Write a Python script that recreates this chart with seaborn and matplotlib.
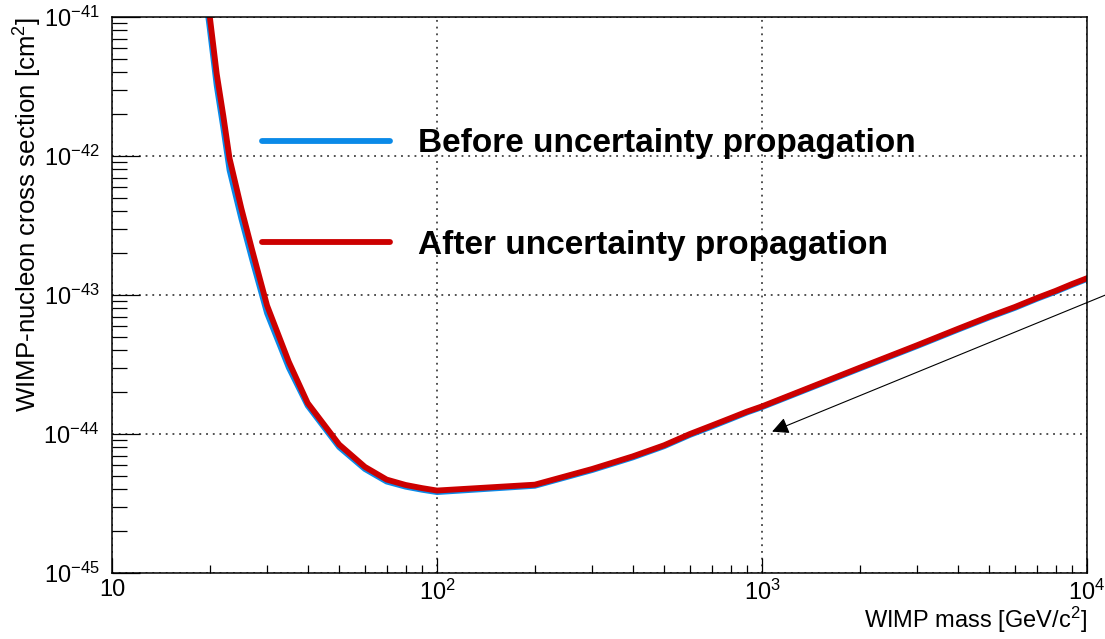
import numpy as np
import pandas as pd
import matplotlib
matplotlib.use("Agg")
import matplotlib.pyplot as plt
from matplotlib.lines import Line2D
from matplotlib.ticker import FixedLocator, FuncFormatter, NullFormatter
import seaborn as sns

# ---- data ----
mass = [19, 20, 21, 22, 23, 25, 27, 30, 35, 40, 50, 60, 70, 80, 90, 100,
        200, 300, 400, 500, 600, 700, 800, 900, 1000,
        2000, 3000, 4000, 5000, 6000, 7000, 8000, 9000, 10000]
xsec_before = [2.1e-41, 8.2e-42, 3.2e-42, 1.6e-42, 7.9e-43, 3.55e-43, 1.8e-43, 7.4e-44,
               3.0e-44, 1.6e-44, 8.05e-45, 5.6e-45, 4.55e-45, 4.18e-45, 3.97e-45, 3.82e-45,
               4.24e-45, 5.5e-45, 6.78e-45, 8.17e-45, 9.85e-45, 1.13e-44, 1.28e-44, 1.43e-44, 1.56e-44,
               2.96e-44, 4.29e-44, 5.62e-44, 6.9e-44, 8.08e-44, 9.37e-44, 1.055e-43, 1.183e-43, 1.303e-43]
xsec_after = [2.6e-41, 1.0e-41, 3.9e-42, 1.95e-42, 9.6e-43, 4.2e-43, 2.1e-43, 8.4e-44,
              3.3e-44, 1.67e-44, 8.4e-45, 5.8e-45, 4.7e-45, 4.3e-45, 4.08e-45, 3.92e-45,
              4.32e-45, 5.6e-45, 6.9e-45, 8.3e-45, 1.0e-44, 1.15e-44, 1.3e-44, 1.45e-44, 1.58e-44,
              3.0e-44, 4.35e-44, 5.7e-44, 7.0e-44, 8.2e-44, 9.5e-44, 1.07e-43, 1.2e-43, 1.32e-43]
series_names = ["Before uncertainty propagation", "After uncertainty propagation"]
series_colors = ["#0a8ae8", "#cc0000"]
x_exponents = [1, 2, 3, 4]
y_exponents = [-45, -44, -43, -42, -41]
arrow_tip = (1074, 1.04e-44)
arrow_tail = (11400, 1.0e-43)

df = pd.DataFrame({
    "mass": mass + mass,
    "xsec": xsec_before + xsec_after,
    "series": [series_names[0]] * len(mass) + [series_names[1]] * len(mass),
})

sns.set_style("white")
plt.rcParams["font.family"] = ["Liberation Sans", "DejaVu Sans"]
plt.rcParams["mathtext.fontset"] = "custom"
plt.rcParams["mathtext.rm"] = "Liberation Sans"
plt.rcParams["mathtext.it"] = "Liberation Sans:italic"
plt.rcParams["mathtext.bf"] = "Liberation Sans:bold"
plt.rcParams["text.color"] = "black"
plt.rcParams["axes.labelcolor"] = "black"
plt.rcParams["xtick.color"] = "black"
plt.rcParams["ytick.color"] = "black"

fig = plt.figure(figsize=(11.05, 6.39), dpi=100)
ax = fig.add_axes([112 / 1105, 1 - 573 / 639, 975 / 1105, 556 / 639])

sns.lineplot(data=df, x="mass", y="xsec", hue="series", hue_order=series_names,
             palette=series_colors, linewidth=4.2, legend=False, ax=ax,
             estimator=None, sort=False)

ax.set_xscale("log")
ax.set_yscale("log")
x_major = [10.0 ** e for e in x_exponents]
y_major = [10.0 ** e for e in y_exponents]
ax.set_xlim(x_major[0], x_major[-1])
ax.set_ylim(y_major[0], y_major[-1])

x_minor = [m * 10.0 ** e for e in x_exponents[:-1] for m in range(2, 10)]
y_minor = [m * 10.0 ** e for e in y_exponents[:-1] for m in range(2, 10)]
ax.xaxis.set_major_locator(FixedLocator(x_major))
ax.yaxis.set_major_locator(FixedLocator(y_major))
ax.xaxis.set_minor_locator(FixedLocator(x_minor))
ax.yaxis.set_minor_locator(FixedLocator(y_minor))
ax.xaxis.set_minor_formatter(NullFormatter())
ax.yaxis.set_minor_formatter(NullFormatter())


def xfmt(v, pos):
    e = int(round(np.log10(v)))
    if e == 1:
        return "10"
    return r"$\mathdefault{10^{%d}}$" % e


def yfmt(v, pos):
    e = int(round(np.log10(v)))
    return r"$\mathdefault{10^{%d}}$" % e


ax.xaxis.set_major_formatter(FuncFormatter(xfmt))
ax.yaxis.set_major_formatter(FuncFormatter(yfmt))

ax.tick_params(axis="both", which="both", direction="in", bottom=True, left=True,
               top=False, right=False, colors="black", labelcolor="black",
               labelsize=17, width=0.9)
ax.tick_params(axis="y", which="major", length=20, pad=9)
ax.tick_params(axis="y", which="minor", length=11)
ax.tick_params(axis="x", which="major", length=11, pad=4.5)
ax.tick_params(axis="x", which="minor", length=5.8)

for sp in ax.spines.values():
    sp.set_linewidth(1.1)
    sp.set_color("black")

ax.grid(True, which="major", color="#222222", linewidth=1.1, linestyle=(0, (1.2, 3.2)))
ax.grid(False, which="minor")
ax.set_axisbelow(True)

ax.set_xlabel("WIMP mass [GeV/c$^{2}$]", fontsize=17, loc="right", color="black")
ax.set_ylabel("WIMP-nucleon cross section [cm$^{2}$]", fontsize=18.6, loc="top", color="black")
ax.xaxis.set_label_coords(1.0, -0.058)
ax.yaxis.set_label_coords(-0.07, 1.0)

handles = [Line2D([0], [0], color=c, linewidth=4.2) for c in series_colors]
leg = ax.legend(handles, series_names, loc="upper left", bbox_to_anchor=(0.1538, 0.80),
                frameon=False, borderpad=0, borderaxespad=0, handlelength=3.84,
                handletextpad=0.84, labelspacing=2.11,
                prop={"family": "Liberation Sans", "weight": "bold", "size": 24})
for t in leg.get_texts():
    t.set_color("black")

ax.annotate("", xy=arrow_tip, xytext=arrow_tail, xycoords="data", textcoords="data",
            annotation_clip=False,
            arrowprops=dict(arrowstyle="-|>", color="black", lw=0.8,
                            mutation_scale=25, shrinkA=0, shrinkB=0))

fig.savefig("out.png", dpi=100, facecolor="white")
